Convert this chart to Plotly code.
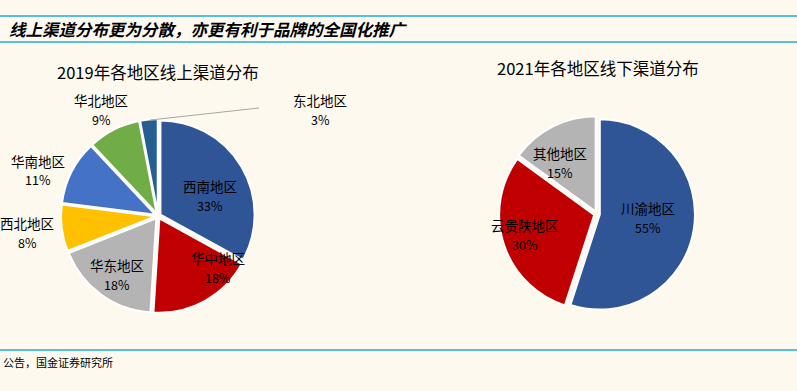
import plotly.graph_objects as go

W, H = 797, 391
BG = "#FDF9EF"
LINE_BLUE = "#1AA9EC"
FONT = "Noto Sans CJK SC"

header_text = "线上渠道分布更为分散，亦更有利于品牌的全国化推广"
source_text = "公告，国金证券研究所"

left_title = "2019年各地区线上渠道分布"
left_labels = ["西南地区", "华中地区", "华东地区", "西北地区", "华南地区", "华北地区", "东北地区"]
left_values = [33, 18, 18, 8, 11, 9, 3]
left_colors = ["#2F5597", "#C00000", "#B4B4B4", "#FFC000", "#4472C4", "#70AD47", "#255E91"]

right_title = "2021年各地区线下渠道分布"
right_labels = ["川渝地区", "云贵陕地区", "其他地区"]
right_values = [55, 30, 15]
right_colors = ["#2F5597", "#C00000", "#B4B4B4"]

# label anchor positions in pixels (x, y of name line)
left_label_pos = [(210, 186), (218, 258), (117, 265), (27, 223), (38, 161), (101, 100), (320, 100)]
right_label_pos = [(648, 208), (525, 225), (560, 153)]


def px(x):
    return x / W


def py(y):
    return 1 - y / H


fig = go.Figure()

fig.add_trace(go.Pie(
    labels=left_labels, values=left_values, sort=False, direction="clockwise", rotation=0,
    marker=dict(colors=left_colors, line=dict(color="white", width=2)),
    pull=[0.03] * len(left_values), textinfo="none", hoverinfo="label+percent",
    domain=dict(x=[px(61), px(255)], y=[py(313), py(119)]), showlegend=False,
))
fig.add_trace(go.Pie(
    labels=right_labels, values=right_values, sort=False, direction="clockwise", rotation=0,
    marker=dict(colors=right_colors, line=dict(color="white", width=2)),
    pull=[0.03] * len(right_values), textinfo="none", hoverinfo="label+percent",
    domain=dict(x=[px(499), px(695)], y=[py(312), py(116)]), showlegend=False,
))

annotations = []


def add_text(x, y, text, size=12, **kw):
    annotations.append(dict(x=px(x), y=py(y), xref="paper", yref="paper", text=text,
                            showarrow=False, font=dict(family=FONT, size=size, color="#000000"),
                            xanchor=kw.pop("xanchor", "center"), yanchor=kw.pop("yanchor", "middle"), **kw))


total_l = sum(left_values)
for lab, v, (x, y) in zip(left_labels, left_values, left_label_pos):
    add_text(x, y, lab, size=13.5)
    add_text(x, y + 19, f"{round(v / total_l * 100)}%", size=12.5)
total_r = sum(right_values)
for lab, v, (x, y) in zip(right_labels, right_values, right_label_pos):
    add_text(x, y, lab, size=13.5)
    add_text(x, y + 19, f"{round(v / total_r * 100)}%", size=12.5)

add_text(158, 72, left_title, size=16.5)
add_text(598, 68, right_title, size=16.5)
add_text(7, 29, f"<b><i>{header_text}</i></b>", size=16.5, xanchor="left")
add_text(1, 362, source_text, size=11, xanchor="left")

shapes = [
    dict(type="line", xref="paper", yref="paper", x0=0, x1=1, y0=py(16), y1=py(16),
         line=dict(color=LINE_BLUE, width=1.5)),
    dict(type="line", xref="paper", yref="paper", x0=0, x1=1, y0=py(42), y1=py(42),
         line=dict(color=LINE_BLUE, width=1.5)),
    dict(type="line", xref="paper", yref="paper", x0=0, x1=1, y0=py(350), y1=py(350),
         line=dict(color=LINE_BLUE, width=1.5)),
    dict(type="line", xref="paper", yref="paper", x0=px(150), x1=px(259), y0=py(120), y1=py(108),
         line=dict(color="#A6A6A6", width=1)),
]

fig.update_layout(
    width=W, height=H, margin=dict(l=0, r=0, t=0, b=0),
    paper_bgcolor=BG, plot_bgcolor=BG,
    annotations=annotations, shapes=shapes,
    font=dict(family=FONT),
)

fig.write_html(
    "out.html",
    config={"displayModeBar": False},
    post_script="document.body.style.margin='0';document.body.style.padding='0';"
                "document.body.style.overflow='hidden';document.body.style.background='" + BG + "';",
)
